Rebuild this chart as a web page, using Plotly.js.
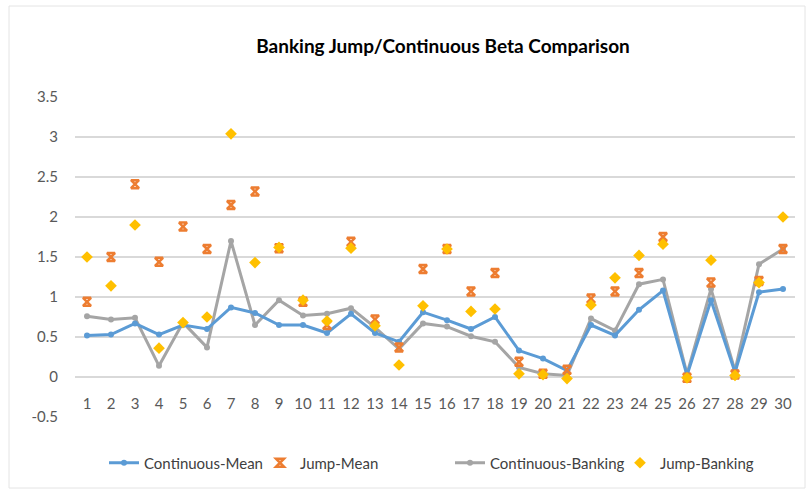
<!DOCTYPE html>
<html>
<head>
<meta charset="utf-8">
<script src="https://cdn.plot.ly/plotly-3.0.1.min.js"></script>
<style>html,body{margin:0;padding:0;background:#fff;}#chart{width:808px;height:491px;}</style>
</head>
<body>
<div id="chart"></div>
<script>
var categories = ["1","2","3","4","5","6","7","8","9","10","11","12","13","14","15","16","17","18","19","20","21","22","23","24","25","26","27","28","29","30"];
var continuousMean = [0.52,0.53,0.67,0.53,0.65,0.60,0.87,0.80,0.65,0.65,0.55,0.79,0.55,0.44,0.81,0.71,0.60,0.75,0.33,0.23,0.08,0.65,0.52,0.84,1.08,0.02,0.96,0.06,1.06,1.10];
var jumpMean = [0.94,1.50,2.41,1.44,1.88,1.60,2.15,2.32,1.61,0.94,0.65,1.69,0.72,0.37,1.35,1.60,1.07,1.30,0.19,0.04,0.09,0.98,1.07,1.30,1.75,-0.01,1.18,0.03,1.20,1.60];
var continuousBanking = [0.76,0.72,0.74,0.14,0.68,0.37,1.70,0.65,0.96,0.77,0.79,0.86,0.62,0.35,0.67,0.63,0.51,0.44,0.12,0.04,0.02,0.73,0.58,1.16,1.22,0.04,1.10,0.08,1.41,1.60];
var jumpBanking = [1.50,1.14,1.90,0.36,0.68,0.75,3.04,1.43,1.62,0.96,0.70,1.61,0.64,0.15,0.89,1.60,0.82,0.85,0.04,0.03,-0.02,0.90,1.24,1.52,1.66,-0.01,1.46,0.02,1.18,2.00];
var yTicks = [-0.5,0,0.5,1,1.5,2,2.5,3,3.5];
var yTickText = ["-0.5","0","0.5","1","1.5","2","2.5","3","3.5"];

var FONT = "Lato, 'Open Sans', sans-serif";

var traces = [
  {x: categories, y: continuousMean, name: "Continuous-Mean", type: "scatter", mode: "lines+markers",
   line: {color: "#5B9BD5", width: 3}, marker: {symbol: "circle", size: 6, color: "#5B9BD5"}, legend: "legend"},
  {x: categories, y: jumpMean, name: "Jump-Mean", type: "scatter", mode: "markers",
   marker: {symbol: "hourglass-open", size: 8, color: "#ED7D31", line: {width: 2.5, color: "#ED7D31"}}, legend: "legend2"},
  {x: categories, y: continuousBanking, name: "Continuous-Banking", type: "scatter", mode: "lines+markers",
   line: {color: "#A5A5A5", width: 3}, marker: {symbol: "circle", size: 6, color: "#A5A5A5"}, legend: "legend3"},
  {x: categories, y: jumpBanking, name: "Jump-Banking", type: "scatter", mode: "markers",
   marker: {symbol: "diamond", size: 9, color: "#FFC000"}, legend: "legend4"}
];
// draw order: grey line under blue, markers on top
traces = [traces[2], traces[0], traces[1], traces[3]];

function leg(px) {
  return {x: px/808, xref: "container", xanchor: "left", y: 1 - 463/491, yref: "container", yanchor: "middle",
          orientation: "h", bgcolor: "rgba(0,0,0,0)", font: {family: FONT, size: 15, color: "#404040"},
          itemwidth: 30, borderwidth: 0};
}

var layout = {
  width: 808, height: 491,
  margin: {l: 75, r: 13, t: 97, b: 74},
  paper_bgcolor: "#ffffff", plot_bgcolor: "#ffffff",
  font: {family: FONT, color: "#595959"},
  title: {text: "<b>Banking Jump/Continuous Beta Comparison</b>", font: {family: FONT, size: 19, color: "#000000"},
          x: 443/808, xref: "container", xanchor: "center", y: 1 - 46/491, yref: "container", yanchor: "middle"},
  xaxis: {type: "category", anchor: "free", position: 0.125, showgrid: false, zeroline: false, showline: false,
          ticks: "", tickfont: {family: FONT, size: 15, color: "#595959"}, ticklabelstandoff: 16,
          range: [-0.5, 29.5], fixedrange: true},
  yaxis: {range: [-0.5, 3.5], tickvals: yTicks, ticktext: yTickText, showgrid: true, gridcolor: "#D9D9D9", gridwidth: 1.6,
          zeroline: false, showline: false, ticks: "", tickfont: {family: FONT, size: 15, color: "#595959"},
          ticklabelstandoff: 16, fixedrange: true},
  showlegend: true,
  legend: leg(104), legend2: leg(260), legend3: leg(450), legend4: leg(620),
  shapes: [{type: "rect", xref: "paper", yref: "paper", x0: (9-75)/720, x1: (805-75)/720, y0: -(488-417)/320, y1: 1 + (97-6)/320,
            line: {color: "#E4E4E4", width: 1}, fillcolor: "rgba(0,0,0,0)", layer: "below"}]
};

Plotly.newPlot("chart", traces, layout, {displayModeBar: false, staticPlot: true});
</script>
</body>
</html>
